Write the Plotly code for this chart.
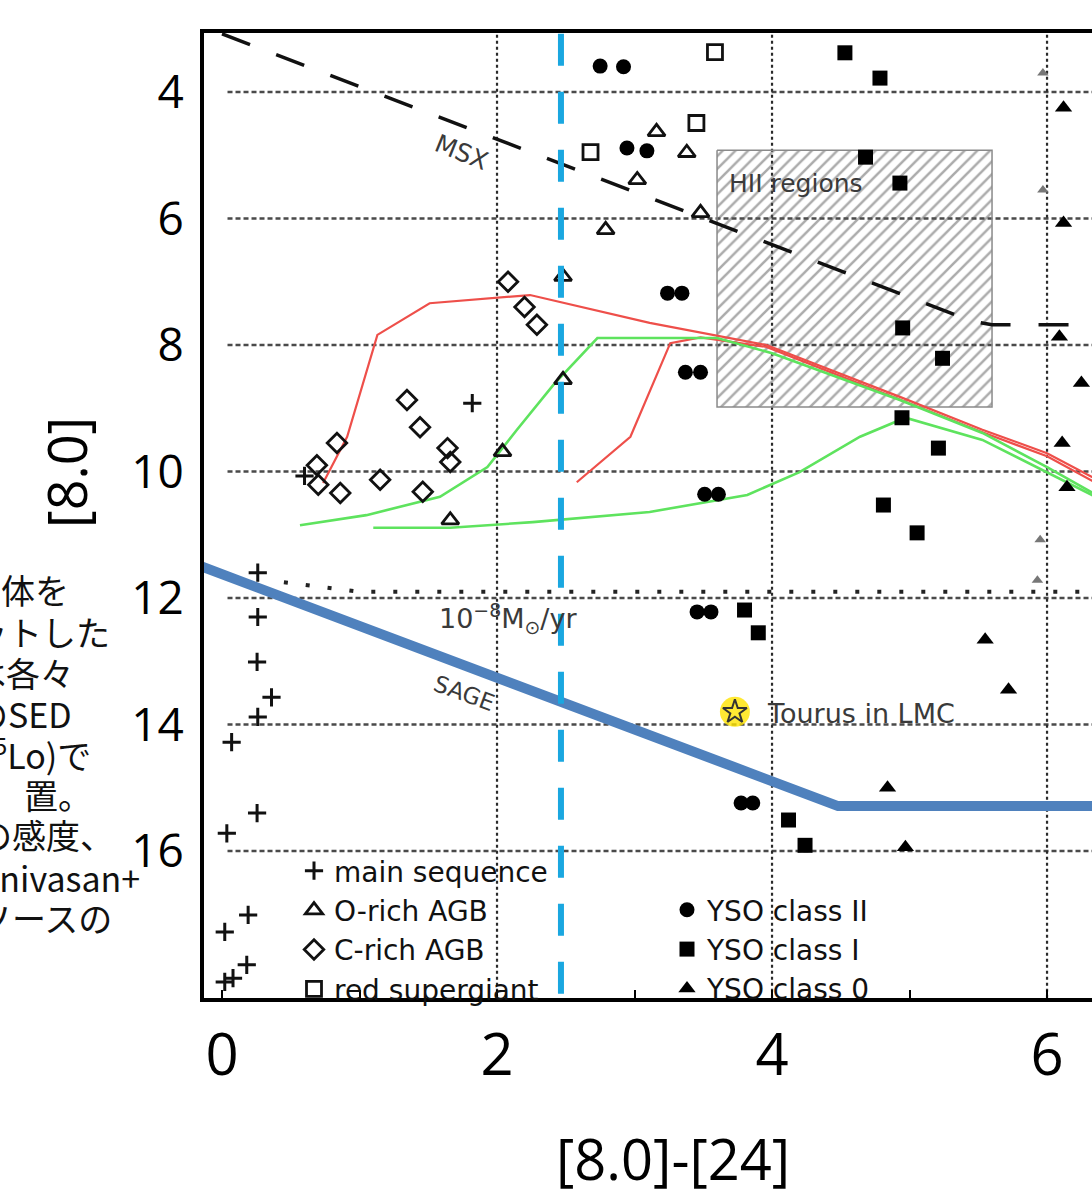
import plotly.graph_objects as go

# ---------------- data ----------------
ms_x = [0.26, 0.26, 0.255, 0.36, 0.26, 0.07, 0.255, 0.035, 0.19, 0.02, 0.18, 0.08, 0.02, 1.82, 0.60]
ms_y = [11.60, 12.30, 13.01, 13.57, 13.88, 14.28, 15.40, 15.72, 17.01, 17.28, 17.80, 18.01, 18.07, 8.92, 10.07]

orich_x = [1.66, 2.04, 2.48, 2.48, 2.79, 3.02, 3.16, 3.38, 3.48]
orich_y = [10.77, 9.69, 8.55, 6.92, 6.18, 5.39, 4.63, 4.96, 5.91]

crich_x = [2.08, 2.20, 2.29, 1.345, 1.44, 1.64, 1.66, 0.836, 0.69, 0.70, 0.86, 1.15, 1.46]
crich_y = [7.00, 7.40, 7.68, 8.87, 9.30, 9.63, 9.85, 9.55, 9.90, 10.21, 10.34, 10.13, 10.32]

rsg_x = [2.68, 3.585, 3.45]
rsg_y = [4.95, 3.37, 4.49]

yso2_x = [2.75, 2.92, 2.945, 3.09, 3.24, 3.345, 3.37, 3.48, 3.51, 3.61, 3.455, 3.556, 3.775, 3.86]
yso2_y = [3.59, 3.60, 4.885, 4.93, 7.18, 7.18, 8.43, 8.43, 10.36, 10.36, 12.22, 12.22, 15.24, 15.24]

yso1_x = [4.53, 4.785, 4.68, 4.93, 4.95, 5.24, 4.945, 5.21, 4.81, 5.055, 3.80, 3.90, 4.12, 4.24]
yso1_y = [3.38, 3.78, 5.03, 5.44, 7.73, 8.21, 9.15, 9.63, 10.53, 10.97, 12.19, 12.55, 15.51, 15.91]

yso0_x = [6.12, 5.97, 5.97, 6.12, 6.09, 6.25, 6.11, 6.145, 5.95, 5.93, 5.55, 5.72, 4.84, 4.97]
yso0_y = [4.25, 3.70, 5.55, 6.07, 7.87, 8.60, 9.55, 10.25, 11.08, 11.72, 12.66, 13.45, 15.00, 15.94]
yso0_faint = [False, True, True, False, False, False, False, False, True, True, False, False, False, False]

torus_x = [3.73]
torus_y = [13.80]

msx_x = [0.0, 5.45, 5.60, 6.40]
msx_y = [3.08, 7.62, 7.68, 7.68]

ml_x = [0.45, 0.75, 1.00, 6.40]
ml_y = [11.75, 11.84, 11.90, 11.90]

red1_x = [0.735, 0.91, 1.13, 1.51, 2.24, 2.46, 3.11, 3.96, 4.93, 5.53, 6.00, 6.40]
red1_y = [10.18, 9.45, 7.84, 7.34, 7.21, 7.32, 7.65, 8.00, 8.82, 9.34, 9.71, 10.17]
red2_x = [2.58, 2.97, 3.26, 3.48, 3.96, 4.93, 5.53, 6.00, 6.40]
red2_y = [10.17, 9.45, 7.97, 7.88, 8.03, 8.86, 9.38, 9.76, 10.23]

green1_x = [0.567, 1.05, 1.585, 1.93, 2.145, 2.41, 2.73, 3.11, 3.60, 4.00, 4.93, 5.53, 6.00, 6.40]
green1_y = [10.85, 10.69, 10.40, 9.93, 9.34, 8.63, 7.89, 7.89, 7.89, 8.13, 8.87, 9.39, 9.93, 10.42]
green2_x = [1.10, 1.66, 2.26, 3.11, 3.82, 4.20, 4.64, 4.97, 5.53, 6.00, 6.40]
green2_y = [10.89, 10.89, 10.80, 10.64, 10.37, 10.01, 9.45, 9.15, 9.50, 10.01, 10.45]

blue_x = [-0.20, 4.48, 6.60]
blue_y = [11.46, 15.29, 15.29]

cyan_x = [2.465, 2.465]
cyan_y = [3.08, 18.28]

hii_x = [3.60, 5.60, 5.60, 3.60, 3.60]
hii_y = [4.92, 4.92, 8.98, 8.98, 4.92]

grid_y = [4, 6, 8, 10, 12, 14, 16]
grid_x = [2, 4, 6]

x_ticks = [0, 2, 4, 6]
x_minor = [1, 3, 5]
y_ticks = [4, 6, 8, 10, 12, 14, 16]

jp_lines = ["体を", "ットした", "は各々", "のSED", "<sup>5</sup>Lo)で", "置。", "の感度、", "inivasan+", "ソースの"]

# ---------------- layout constants ----------------
W, H = 1092, 1191
ML, MR, MT, MB = 204, 0, 33, 193
XR = [-0.131, 6.327]
YR = [18.324, 3.067]

LBL_FONT = "DejaVu Sans"
TXT = "#3a3a3a"


def pgx(px):
    """pixel x -> paper x"""
    return (px - ML) / (W - ML - MR)


def pgy(py):
    """pixel y -> paper y"""
    return (H - MB - py) / (H - MT - MB)


fig = go.Figure()

# HII hatched region
fig.add_trace(go.Scatter(
    x=hii_x, y=hii_y, mode="lines", fill="toself",
    fillcolor="rgba(0,0,0,0)",
    fillpattern=dict(shape="/", fgcolor="#585858", bgcolor="rgba(0,0,0,0)", size=9, solidity=0.28),
    line=dict(color="#8a8a8a", width=1.5), showlegend=False, hoverinfo="skip"))

# MSX dashed line
fig.add_trace(go.Scatter(x=msx_x, y=msx_y, mode="lines",
                         line=dict(color="#111111", width=3.5, dash="30px,28px"),
                         showlegend=False, hoverinfo="skip"))
# mass-loss dotted line
fig.add_trace(go.Scatter(x=ml_x, y=ml_y, mode="lines",
                         line=dict(color="#222222", width=4, dash="4px,18px"),
                         showlegend=False, hoverinfo="skip"))

# model curves
for xs, ys in [(red1_x, red1_y), (red2_x, red2_y)]:
    fig.add_trace(go.Scatter(x=xs, y=ys, mode="lines",
                             line=dict(color="#ee4f4a", width=2.2),
                             showlegend=False, hoverinfo="skip"))
for xs, ys in [(green1_x, green1_y), (green2_x, green2_y)]:
    fig.add_trace(go.Scatter(x=xs, y=ys, mode="lines",
                             line=dict(color="#5ee35e", width=2.6),
                             showlegend=False, hoverinfo="skip"))

# blue sensitivity line
fig.add_trace(go.Scatter(x=blue_x, y=blue_y, mode="lines",
                         line=dict(color="#4f81bd", width=10),
                         showlegend=False, hoverinfo="skip"))

# markers, legend 1
fig.add_trace(go.Scatter(x=ms_x, y=ms_y, mode="markers", name="main sequence",
                         marker=dict(symbol="cross-thin-open", size=13, color="#111",
                                     line=dict(color="#111", width=3)),
                         legend="legend"))
fig.add_trace(go.Scatter(x=orich_x, y=orich_y, mode="markers", name="O-rich AGB",
                         marker=dict(symbol="triangle-up-open", size=15, color="#111",
                                     line=dict(color="#111", width=2.8)),
                         legend="legend"))
fig.add_trace(go.Scatter(x=crich_x, y=crich_y, mode="markers", name="C-rich AGB",
                         marker=dict(symbol="diamond-open", size=15, color="#111",
                                     line=dict(color="#111", width=2.8)),
                         legend="legend"))
fig.add_trace(go.Scatter(x=rsg_x, y=rsg_y, mode="markers", name="red supergiant",
                         marker=dict(symbol="square-open", size=15, color="#111",
                                     line=dict(color="#111", width=2.8)),
                         legend="legend"))
# legend 2
fig.add_trace(go.Scatter(x=yso2_x, y=yso2_y, mode="markers", name="YSO class II",
                         marker=dict(symbol="circle", size=15, color="#000"),
                         legend="legend2"))
fig.add_trace(go.Scatter(x=yso1_x, y=yso1_y, mode="markers", name="YSO class I",
                         marker=dict(symbol="square", size=15, color="#000"),
                         legend="legend2"))
fig.add_trace(go.Scatter(x=[x for x, f in zip(yso0_x, yso0_faint) if not f],
                         y=[y for y, f in zip(yso0_y, yso0_faint) if not f],
                         mode="markers", name="YSO class 0",
                         marker=dict(symbol="triangle-up", size=15, color="#000"),
                         legend="legend2"))
fig.add_trace(go.Scatter(x=[x for x, f in zip(yso0_x, yso0_faint) if f],
                         y=[y for y, f in zip(yso0_y, yso0_faint) if f],
                         mode="markers", name="YSO class 0 (faint)", showlegend=False,
                         marker=dict(symbol="triangle-up", size=10, color="#777")))

# cyan dashed line
fig.add_trace(go.Scatter(x=cyan_x, y=cyan_y, mode="lines",
                         line=dict(color="#1aa7e0", width=6, dash="32px,26px"),
                         showlegend=False, hoverinfo="skip"))

# Torus in LMC
fig.add_trace(go.Scatter(x=torus_x, y=torus_y, mode="markers",
                         marker=dict(symbol="circle", size=30, color="rgba(255,228,0,0.8)"),
                         showlegend=False, hoverinfo="skip"))
fig.add_trace(go.Scatter(x=torus_x, y=torus_y, mode="markers",
                         marker=dict(symbol="star-open", size=18, color="#333",
                                     line=dict(color="#333", width=2)),
                         showlegend=False, hoverinfo="skip"))

# grid (dotted) lines
shapes = []
for gy in grid_y:
    shapes.append(dict(type="line", xref="x", yref="y", x0=0.04, x1=6.5, y0=gy, y1=gy,
                       line=dict(color="#4a4a4a", width=2.5, dash="5px,3px"), layer="below"))
for gx in grid_x:
    shapes.append(dict(type="line", xref="x", yref="y", x0=gx, x1=gx, y0=3.0, y1=18.4,
                       line=dict(color="#2a2a2a", width=2.2, dash="3px,3px"), layer="below"))

annotations = [
    dict(x=1.745, y=4.96, xref="x", yref="y", text="MSX", showarrow=False, textangle=22,
         font=dict(family=LBL_FONT, size=25, color=TXT)),
    dict(x=3.67, y=5.44, xref="x", yref="y", text="HII regions", showarrow=False, xanchor="left",
         font=dict(family=LBL_FONT, size=25, color=TXT)),
    dict(x=1.56, y=12.33, xref="x", yref="y", text="10<sup>−8</sup>M<sub>⊙</sub>/yr", showarrow=False,
         xanchor="left", font=dict(family=LBL_FONT, size=27, color=TXT)),
    dict(x=1.76, y=13.5, xref="x", yref="y", text="SAGE", showarrow=False, textangle=20,
         font=dict(family=LBL_FONT, size=23, color=TXT)),
    dict(x=3.95, y=13.82, xref="x", yref="y", text="Tourus in LMC", showarrow=False, xanchor="left",
         font=dict(family=LBL_FONT, size=27, color=TXT)),
    # axis titles
    dict(x=pgx(673), y=pgy(1158), xref="paper", yref="paper", text="[8.0]-[24]", showarrow=False,
         xanchor="center", yanchor="middle", font=dict(family="Open Sans", size=56, color="black")),
    dict(x=pgx(66), y=pgy(473), xref="paper", yref="paper", text="[8.0]", showarrow=False,
         textangle=-90, xanchor="center", yanchor="middle",
         font=dict(family="Open Sans", size=54, color="black")),
]

# cut-off Japanese side text (pixel right edge, centre y)
jp_right = [71, 112, 76, 74, 93, 94, 116, 142, 114]
jp_cy = [590, 631, 672, 713, 753, 794, 835, 877, 917]
for t, rx, cy in zip(jp_lines, jp_right, jp_cy):
    annotations.append(dict(x=pgx(rx), y=pgy(cy), xref="paper", yref="paper",
                            text=t, showarrow=False, xanchor="right", yanchor="middle",
                            font=dict(family="Noto Sans CJK JP", size=34, color="#111")))

fig.update_layout(
    width=W, height=H,
    margin=dict(l=ML, r=MR, t=MT, b=MB, autoexpand=False),
    paper_bgcolor="white", plot_bgcolor="white",
    shapes=shapes, annotations=annotations,
    legend=dict(x=pgx(294), y=pgy(846), xanchor="left", yanchor="top",
                bgcolor="rgba(0,0,0,0)", font=dict(family=LBL_FONT, size=28, color="#111"),
                itemsizing="trace", tracegroupgap=0),
    legend2=dict(x=pgx(667), y=pgy(885), xanchor="left", yanchor="top",
                 bgcolor="rgba(0,0,0,0)", font=dict(family=LBL_FONT, size=28, color="#111"),
                 itemsizing="trace", tracegroupgap=0),
    xaxis=dict(range=XR, showgrid=False, zeroline=False, showline=True, mirror=True,
               linecolor="black", linewidth=4, ticks="inside", ticklen=8, tickwidth=2, tickcolor="black",
               tickvals=x_ticks, ticklabelstandoff=3,
               minor=dict(tickvals=x_minor, ticks="inside", ticklen=8, tickwidth=2, tickcolor="black",
                          showgrid=False),
               tickfont=dict(family="Open Sans", size=58, color="black")),
    yaxis=dict(range=YR, showgrid=False, zeroline=False, showline=True, mirror=False,
               linecolor="black", linewidth=4, ticks="", tickvals=y_ticks, ticklabelstandoff=7,
               tickfont=dict(family="Open Sans", size=46, color="black")),
)

# let the figure fill the window edge to edge (no default page margin), no mode bar
fig.write_html("out.html", config={"displayModeBar": False},
               post_script="document.body.style.margin='0';")
